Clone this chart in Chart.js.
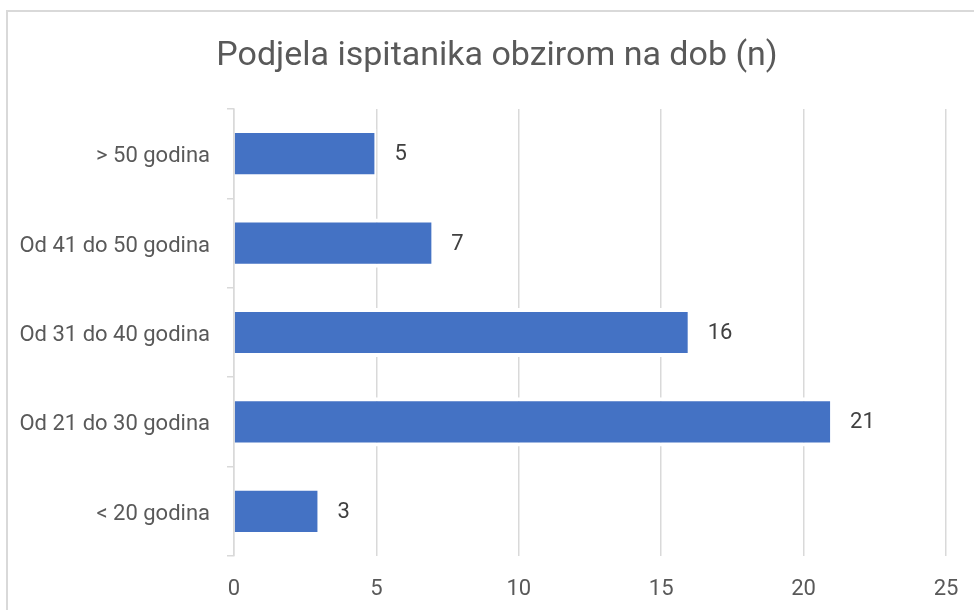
<!DOCTYPE html>
<html>
<head>
<meta charset="utf-8">
<script src="https://cdn.jsdelivr.net/npm/chart.js@4/dist/chart.umd.min.js"></script>
<style>
  html, body { margin: 0; padding: 0; background: #ffffff; overflow: hidden; }
  #wrap { position: relative; width: 974px; height: 610px; }
  #frame { position: absolute; left: 6px; top: 10px; width: 1000px; height: 700px; border: 2px solid #d9d9d9; box-sizing: border-box; }
  #c { position: absolute; left: 0; top: 0; }
</style>
</head>
<body>
<div id="wrap">
  <div id="frame"></div>
  <canvas id="c" width="974" height="610"></canvas>
</div>
<script>
const titleText = 'Podjela ispitanika obzirom na dob (n)';
const categories = ['> 50 godina', 'Od 41 do 50 godina', 'Od 31 do 40 godina', 'Od 21 do 30 godina', '< 20 godina'];
const counts = [5, 7, 16, 21, 3];
const xTicks = [0, 5, 10, 15, 20, 25];

const FONT = "'Roboto', 'Liberation Sans', sans-serif";
const TXT = '#595959';
const GRID = '#d9d9d9';

// Title drawn centred on the outer chart frame (as in the reference)
const frameTitle = {
  id: 'frameTitle',
  afterDraw(chart) {
    const ctx = chart.ctx;
    ctx.save();
    ctx.font = '34px ' + FONT;
    ctx.fillStyle = TXT;
    ctx.textAlign = 'center';
    ctx.textBaseline = 'middle';
    ctx.fillText(titleText, 497, 56);
    ctx.restore();
  }
};

const valueLabels = {
  id: 'valueLabels',
  afterDatasetsDraw(chart) {
    const ctx = chart.ctx;
    const meta = chart.getDatasetMeta(0);
    ctx.save();
    ctx.font = '22px ' + FONT;
    ctx.fillStyle = '#404040';
    ctx.textAlign = 'left';
    ctx.textBaseline = 'middle';
    meta.data.forEach((bar, i) => {
      ctx.fillText(String(counts[i]), bar.x + 18, bar.y + 1);
    });
    ctx.restore();
  }
};

new Chart(document.getElementById('c'), {
  type: 'bar',
  data: {
    labels: categories,
    datasets: [{
      data: counts,
      backgroundColor: '#4472C4',
      borderColor: '#ffffff',
      borderWidth: { top: 4, bottom: 4, right: 2, left: 0 },
      borderSkipped: 'start',
      barPercentage: 0.55,
      categoryPercentage: 1.0
    }]
  },
  options: {
    indexAxis: 'y',
    responsive: false,
    animation: false,
    devicePixelRatio: 1,
    layout: { padding: { top: 109, right: 28, left: 0, bottom: 0 } },
    plugins: {
      legend: { display: false },
      tooltip: { enabled: false },
      title: { display: false }
    },
    scales: {
      x: {
        min: 0,
        max: 25,
        afterBuildTicks(scale) { scale.ticks = xTicks.map(v => ({ value: v })); },
        afterFit(scale) { scale.height = 54; scale.paddingLeft = 0; scale.paddingRight = 0; },
        ticks: {
          color: TXT,
          font: { family: FONT, size: 22 },
          padding: 20
        },
        grid: { color: GRID, lineWidth: 1.5, drawTicks: false },
        border: { display: false }
      },
      y: {
        afterFit(scale) { scale.width = 234; scale.paddingTop = 0; scale.paddingBottom = 0; },
        ticks: {
          color: TXT,
          font: { family: FONT, size: 22 },
          padding: 17,
          labelOffset: 3
        },
        grid: { drawOnChartArea: false, drawTicks: true, tickLength: 7, color: GRID, lineWidth: 1.5, offset: true },
        border: { display: true, color: GRID, width: 1.5 }
      }
    }
  },
  plugins: [valueLabels, frameTitle]
});
</script>
</body>
</html>
